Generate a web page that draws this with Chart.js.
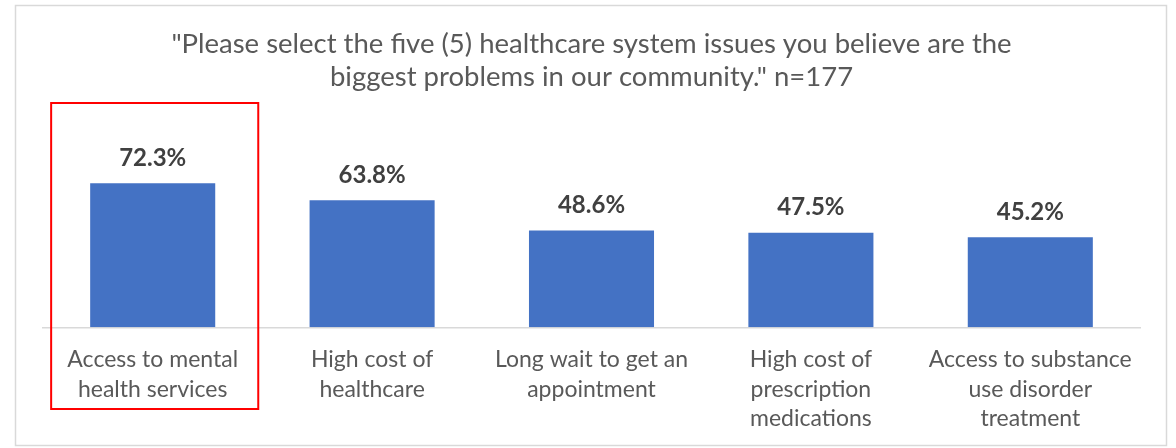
<!DOCTYPE html>
<html lang="en">
<head>
    <meta charset="UTF-8">
    <title>Healthcare system issues</title>
    <script src="https://cdn.jsdelivr.net/npm/chart.js"></script>
    <style>
        body { margin: 0; background: #fff; }
    </style>
</head>
<body>
    <canvas id="myChart" width="1176" height="448"></canvas>

    <script>
        // Survey results
        const categories = [
            ['Access to mental', 'health services'],
            ['High cost of', 'healthcare'],
            ['Long wait to get an', 'appointment'],
            ['High cost of', 'prescription', 'medications'],
            ['Access to substance', 'use disorder', 'treatment']
        ];
        const percentages = [72.3, 63.8, 48.6, 47.5, 45.2];
        const titleLines = [
            '"Please select the five (5) healthcare system issues you believe are the',
            'biggest problems in our community." n=177'
        ];
        const highlighted = 0;

        // Frame around the whole figure
        const framePlugin = {
            id: 'frame',
            beforeDraw(chart) {
                const ctx = chart.ctx;
                ctx.save();
                ctx.fillStyle = '#ffffff';
                ctx.fillRect(0, 0, chart.width, chart.height);
                ctx.strokeStyle = '#d9d9d9';
                ctx.lineWidth = 1.5;
                ctx.strokeRect(15.5, 5.5, 1151, 440);
                ctx.restore();
            }
        };

        // Percent labels above the bars + red box on the highlighted category
        const labelPlugin = {
            id: 'barLabels',
            afterDatasetsDraw(chart) {
                const ctx = chart.ctx;
                const meta = chart.getDatasetMeta(0);
                ctx.save();
                ctx.font = 'bold 24px Lato';
                ctx.fillStyle = '#404040';
                ctx.textAlign = 'center';
                ctx.textBaseline = 'middle';
                meta.data.forEach((bar, i) => {
                    ctx.fillText(percentages[i].toFixed(1) + '%', bar.x, bar.y - 25);
                });

                const x = chart.scales.x;
                const step = x.getPixelForValue(1) - x.getPixelForValue(0);
                const cx = x.getPixelForValue(highlighted) + 2;
                ctx.strokeStyle = '#ff0000';
                ctx.lineWidth = 2;
                ctx.strokeRect(cx - step * 0.472, 103, step * 0.944, 306);
                ctx.restore();
            }
        };

        const config = {
            type: 'bar',
            data: {
                labels: categories,
                datasets: [{
                    data: percentages,
                    backgroundColor: '#4472c4',
                    borderWidth: 0,
                    barPercentage: 0.57,
                    categoryPercentage: 1
                }]
            },
            options: {
                responsive: false,
                animation: false,
                layout: {
                    padding: { left: 43, right: 36, top: 0, bottom: 5 }
                },
                plugins: {
                    legend: { display: false },
                    tooltip: { enabled: false },
                    title: {
                        display: true,
                        text: titleLines,
                        color: '#595959',
                        font: { family: 'Lato', size: 27.5, weight: 'normal', lineHeight: 1.2 },
                        padding: { top: 28, bottom: 34 }
                    }
                },
                scales: {
                    x: {
                        grid: { display: false },
                        border: { display: true, color: '#d9d9d9', width: 1.5 },
                        ticks: {
                            color: '#595959',
                            font: { family: 'Lato', size: 23, lineHeight: 1.3 },
                            padding: 9,
                            maxRotation: 0
                        }
                    },
                    y: {
                        display: false,
                        min: 0,
                        max: 100
                    }
                }
            },
            plugins: [framePlugin, labelPlugin]
        };

        const ctx = document.getElementById('myChart').getContext('2d');
        new Chart(ctx, config);
    </script>
</body>
</html>
